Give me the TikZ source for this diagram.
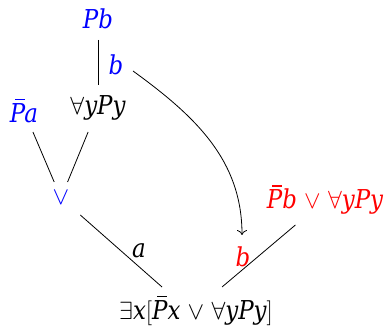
\documentclass[tikz,border=0pt]{standalone}
\usepackage{fontspec}
\setmainfont{DejaVu Serif}[FakeStretch=0.88]
\usetikzlibrary{calc,arrows.meta}
\newcommand\myfa{$\forall$}
\newcommand\myex{$\exists$}
\newcommand\myor{$\vee$}
\newcommand\barP{\leavevmode\rlap{\kern0.2em\raisebox{0.86em}{\rule{0.38em}{0.045em}}}P}
\tikzset{
  t/.style={inner sep=0pt, font=\fontsize{26}{30}\selectfont\itshape},
  blu/.style={text=blue},
  rd/.style={text=red},
  ln/.style={line width=0.8pt}
}
\begin{document}
\begin{tikzpicture}[x=1pt,y=-1pt]
\useasboundingbox (0,0) rectangle (388,328);
\node[t,blu] (pb) at (98,19) {Pb};
\node[t] (fa) at (98,108) {\myfa yPy};
\node[t,blu] (pa) at (24,111) {\barP a};
\node[t,blu] (or) at (61,198) {\myor};
\node[t] (bot) at (196,311) {\myex x$[$\barP x \myor{} \myfa yPy$]$};
\node[t,rd] (red) at (325,200) {\barP b \myor{} \myfa yPy};
\node[t,blu] (lb) at (116,65) {b};
\node[t] (la) at (139,251) {a};
\node[t,rd] (rb) at (243,257) {b};
\draw[ln, shorten <=21pt, shorten >=23pt] (pb.center) -- (fa.center);
\draw[ln, shorten <=22.8pt, shorten >=17.4pt] (pa.center) -- (or.center);
\draw[ln, shorten <=26pt, shorten >=17.3pt] (fa.center) -- (or.center);
\draw[ln, shorten <=25.7pt, shorten >=33.3pt] (or.center) -- ($(bot.center)+(-9,-2)$);
\draw[ln, shorten <=38.7pt, shorten >=34.1pt] (red.center) -- ($(bot.center)+(0,-2)$);
\draw[ln, -{Computer Modern Rightarrow[length=5pt,width=10pt]}] ($(lb)+(17,6)$) .. controls +(62,45) and +(0,-75) .. ($(rb)+(-1,-22)$);
\end{tikzpicture}
\end{document}
